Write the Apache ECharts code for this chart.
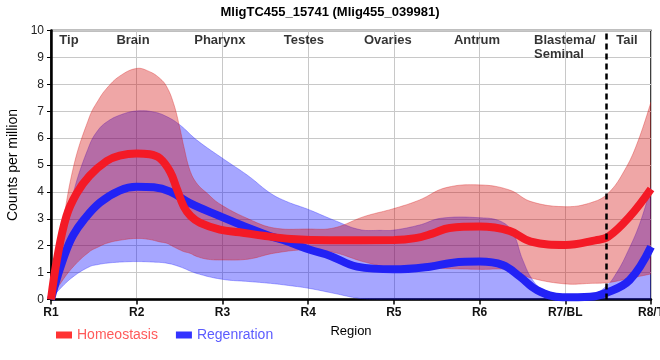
<!DOCTYPE html>
<html>
<head>
<meta charset="utf-8">
<script src="https://cdn.jsdelivr.net/npm/echarts@6/dist/echarts.min.js"></script>
<style>html,body{margin:0;padding:0;background:#fff}#c{width:660px;height:360px}</style>
</head>
<body>
<div id="c"></div>
<script>
// ---- data (x in region index units: R1 = 0 ... R8/T = 7) ----
const regions = ['R1', 'R2', 'R3', 'R4', 'R5', 'R6', 'R7/BL', 'R8/T'];
const sectionNames = ['Tip', 'Brain', 'Pharynx', 'Testes', 'Ovaries', 'Antrum', 'Blastema/\nSeminal', 'Tail'];
const sectionPos = [0.21, 0.957, 1.97, 2.95, 3.93, 4.97, 5.636, 6.72];
const boundaryPos = 6.48;

const homBandX = [0, 0.1, 0.26, 0.45, 0.55, 0.65, 0.8, 1.0, 1.15, 1.27, 1.35, 1.43, 1.5, 1.55, 1.62, 1.7, 1.82, 1.97, 2.3, 2.6, 3.0, 3.3, 3.65, 4.0, 4.3, 4.6, 5.0, 5.35, 5.6, 6.0, 6.3, 6.5, 6.7, 6.85, 7.0];
const homHigh = [0, 2.0, 4.9, 6.8, 7.4, 7.85, 8.3, 8.59, 8.47, 8.22, 7.91, 7.29, 6.42, 5.68, 4.81, 4.32, 3.95, 3.55, 3.0, 2.66, 2.62, 2.66, 3.08, 3.38, 3.7, 4.15, 4.26, 4.07, 3.64, 3.45, 3.6, 3.95, 4.85, 5.9, 7.35];
const homLow = [0, 0.55, 1.22, 1.78, 1.95, 2.09, 2.2, 2.27, 2.23, 2.14, 2.09, 1.96, 1.85, 1.78, 1.72, 1.6, 1.5, 1.47, 1.5, 1.72, 1.85, 1.75, 1.4, 1.17, 1.17, 1.15, 1.12, 1.1, 0.8, 0.58, 0.6, 0.63, 0.75, 0.85, 0.95];

const regBandX = [0, 0.1, 0.26, 0.45, 0.55, 0.65, 0.8, 1.0, 1.2, 1.35, 1.5, 1.7, 2.0, 2.3, 2.56, 2.75, 3.0, 3.3, 3.6, 3.85, 4.0, 4.3, 4.55, 5.0, 5.25, 5.39, 5.5, 5.62, 5.75, 6.0, 6.3, 6.48, 6.6, 6.72, 6.87, 7.0];
const regHigh = [0, 1.45, 3.95, 5.75, 6.3, 6.6, 6.85, 7.01, 6.97, 6.8, 6.5, 5.93, 5.25, 4.6, 3.95, 3.64, 3.35, 2.95, 2.6, 2.57, 2.58, 2.77, 3.02, 3.04, 2.9, 2.47, 1.5, 0.72, 0.35, 0.17, 0.17, 0.5, 1.0, 1.72, 2.83, 4.19];
const regLow = [0, 0.38, 0.85, 1.22, 1.3, 1.35, 1.39, 1.41, 1.39, 1.35, 1.22, 0.97, 0.75, 0.67, 0.6, 0.53, 0.42, 0.23, 0.04, 0, 0, 0, 0, 0, 0, 0, 0, 0, 0, 0, 0, 0, 0, 0, 0, 0];

const homMeanX = [0, 0.07, 0.18, 0.3, 0.45, 0.65, 0.8, 1.0, 1.15, 1.27, 1.39, 1.47, 1.55, 1.63, 1.74, 1.97, 2.2, 2.5, 2.8, 3.25, 4.0, 4.25, 4.45, 4.65, 5.0, 5.35, 5.6, 6.0, 6.35, 6.5, 6.75, 7.0];
const homMean = [0, 1.5, 3.1, 3.95, 4.6, 5.15, 5.35, 5.43, 5.4, 5.25, 4.75, 4.1, 3.45, 3.1, 2.85, 2.6, 2.5, 2.36, 2.25, 2.2, 2.21, 2.28, 2.45, 2.66, 2.71, 2.55, 2.15, 2.03, 2.2, 2.33, 3.08, 4.11];

const regMeanX = [0, 0.08, 0.18, 0.26, 0.38, 0.57, 0.8, 1.0, 1.2, 1.39, 1.62, 1.97, 2.35, 2.56, 2.71, 3.03, 3.26, 3.57, 4.0, 4.42, 4.69, 5.0, 5.27, 5.47, 5.67, 5.97, 6.29, 6.48, 6.75, 7.0];
const regMean = [0, 0.9, 1.84, 2.4, 2.95, 3.6, 4.05, 4.19, 4.17, 4.01, 3.58, 3.1, 2.6, 2.35, 2.21, 1.84, 1.62, 1.22, 1.12, 1.22, 1.37, 1.41, 1.28, 0.85, 0.35, 0.08, 0.1, 0.25, 0.72, 1.96];

const yTicks = [0, 1, 2, 3, 4, 5, 6, 7, 8, 9, 10];

// ---- build ----
const FONT = 'Liberation Sans, Arial, Helvetica, sans-serif';
const SMOOTH = 0.4;
const pairs = (xs, ys) => xs.map((x, i) => [x, ys[i]]);

// smooth a pixel polyline with bezier segments (same idea as echarts line smoothing), sampled densely
function smoothPts(p) {
  const n = p.length, out = [];
  const cps = p.map((pt, i) => {
    if (i === 0 || i === n - 1) return { a: pt, b: pt };
    const prev = p[i - 1], next = p[i + 1];
    const dx = next[0] - prev[0], dy = next[1] - prev[1];
    const l1 = Math.hypot(pt[0] - prev[0], pt[1] - prev[1]);
    const l2 = Math.hypot(next[0] - pt[0], next[1] - pt[1]);
    const s = l1 + l2 || 1;
    return {
      a: [pt[0] - dx * SMOOTH * l1 / s, pt[1] - dy * SMOOTH * l1 / s],
      b: [pt[0] + dx * SMOOTH * l2 / s, pt[1] + dy * SMOOTH * l2 / s]
    };
  });
  out.push(p[0]);
  for (let i = 0; i < n - 1; i++) {
    const p0 = p[i], c1 = cps[i].b, c2 = cps[i + 1].a, p1 = p[i + 1];
    for (let k = 1; k <= 12; k++) {
      const t = k / 12, u = 1 - t;
      out.push([
        u * u * u * p0[0] + 3 * u * u * t * c1[0] + 3 * u * t * t * c2[0] + t * t * t * p1[0],
        u * u * u * p0[1] + 3 * u * u * t * c1[1] + 3 * u * t * t * c2[1] + t * t * t * p1[1]
      ]);
    }
  }
  return out;
}

function bandSeries(xs, lo, hi, fill, edge) {
  return {
    type: 'custom', silent: true, clip: true,
    data: [0],
    renderItem: (params, api) => {
      const up = smoothPts(xs.map((x, i) => api.coord([x, hi[i]])));
      const dn = smoothPts(xs.map((x, i) => api.coord([x, lo[i]])));
      return {
        type: 'group',
        children: [
          { type: 'polygon', shape: { points: up.concat(dn.slice().reverse()) },
            style: { fill: fill, stroke: null } },
          { type: 'polyline', shape: { points: up }, style: { fill: null, stroke: edge, lineWidth: 0.8 } },
          { type: 'polyline', shape: { points: dn }, style: { fill: null, stroke: edge, lineWidth: 0.8 } }
        ]
      };
    }
  };
}

const chart = echarts.init(document.getElementById('c'), null, { renderer: 'canvas' });
chart.setOption({
  animation: false,
  title: {
    text: 'MligTC455_15741 (Mlig455_039981)',
    left: 'center', top: 1,
    textStyle: { fontFamily: FONT, fontSize: 13, fontWeight: 'bold', color: '#000' }
  },
  legend: {
    left: 51, top: 323,
    icon: 'rect', itemWidth: 16, itemHeight: 7, itemGap: 18,
    textStyle: { fontFamily: FONT, fontSize: 14 },
    data: [
      { name: 'Homeostasis', itemStyle: { color: '#ff3333' }, textStyle: { color: '#ff5a5a' } },
      { name: 'Regenration', itemStyle: { color: '#3333ff' }, textStyle: { color: '#5c5cff' } }
    ]
  },
  grid: {
    left: 51, right: 9, top: 30.5, bottom: 60.5,
    show: true, borderColor: '#000', borderWidth: 1.5,
    containLabel: false, outerBoundsMode: 'none'
  },
  xAxis: {
    type: 'value', min: 0, max: regions.length - 1, interval: 1,
    name: 'Region', nameLocation: 'middle', nameGap: 25,
    nameTextStyle: { fontFamily: FONT, fontSize: 13, color: '#000' },
    axisLine: { show: true, lineStyle: { color: '#000', width: 2.5 } },
    axisTick: { show: true, length: 5, lineStyle: { color: '#000', width: 1.5 } },
    axisLabel: {
      margin: 7, fontFamily: FONT, fontSize: 12, fontWeight: 'bold', color: '#111',
      formatter: v => regions[Math.round(v)] || ''
    },
    splitLine: { show: true, lineStyle: { color: '#c8c8c8', width: 1 } }
  },
  yAxis: {
    type: 'value', min: yTicks[0], max: yTicks[yTicks.length - 1], interval: 1,
    name: 'Counts per million', nameLocation: 'middle', nameGap: 21, nameRotate: 90,
    nameTextStyle: { fontFamily: FONT, fontSize: 14, color: '#000' },
    axisLine: { show: true, lineStyle: { color: '#000', width: 2.5 } },
    axisTick: { show: true, length: 4, lineStyle: { color: '#000', width: 1 } },
    axisLabel: { margin: 7, fontFamily: FONT, fontSize: 12, color: '#222' },
    splitLine: { show: true, lineStyle: { color: '#c8c8c8', width: 1 } }
  },
  series: [
    bandSeries(regBandX, regLow, regHigh, 'rgba(0,0,255,0.35)', 'rgba(40,40,255,0.45)'),
    { type: 'line', name: 'Regenration', smooth: SMOOTH, symbol: 'none',
      data: pairs(regMeanX, regMean),
      itemStyle: { color: '#3333ff' },
      lineStyle: { color: '#2222f5', width: 8 } },
    bandSeries(homBandX, homLow, homHigh, 'rgba(210,0,0,0.35)', 'rgba(215,30,30,0.45)'),
    { type: 'line', name: 'Homeostasis', smooth: SMOOTH, symbol: 'none',
      data: pairs(homMeanX, homMean),
      itemStyle: { color: '#ff3333' },
      lineStyle: { color: '#f41a26', width: 8 } },
    { type: 'scatter', name: 'sections', symbolSize: 0, silent: true, z: 10,
      data: sectionNames.map((n, i) => {
        const item = { name: n, value: [sectionPos[i], 9.63] };
        if (n.indexOf('\n') >= 0) {
          item.value = [sectionPos[i], 9.9];
          item.label = { align: 'left', verticalAlign: 'top', lineHeight: 14 };
        }
        return item;
      }),
      label: { show: true, position: 'inside', formatter: '{b}',
        fontFamily: FONT, fontSize: 13, fontWeight: 'bold', color: '#000' },
      markLine: {
        silent: true, symbol: ['none', 'none'], label: { show: false },
        lineStyle: { color: '#000', type: [6, 4], width: 2.5 },
        data: [{ xAxis: boundaryPos }]
      }
    }
  ]
});
</script>
</body>
</html>
